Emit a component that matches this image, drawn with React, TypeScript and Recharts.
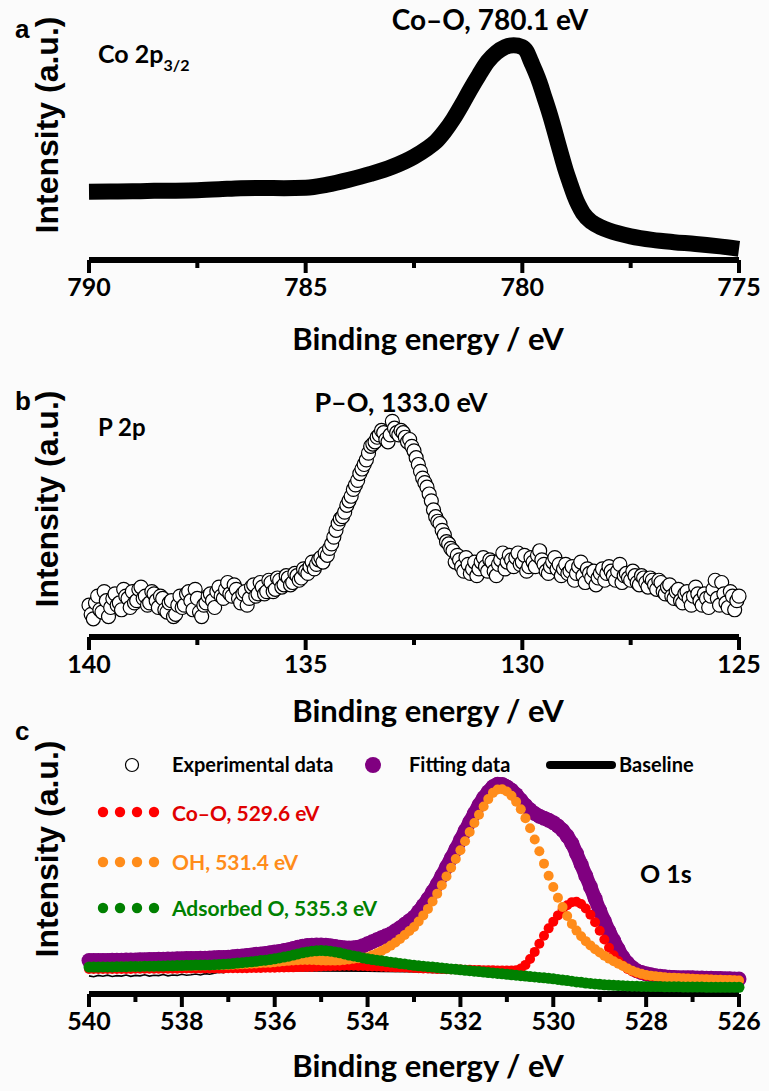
import React from 'react';
import { LineChart, Line, XAxis, YAxis, ComposedChart } from 'recharts';

const NUM_FONT = 'Lato, "Open Sans", sans-serif';
const AX_FONT = '"Liberation Sans", Arial, sans-serif';

// ---------- helpers for energy channels (sampling grid) ----------
const channels = (start: number, count: number, step: number) =>
  Array.from({ length: count }, (_, i) => +(start - i * step).toFixed(2));

// ---------- panel a : Co 2p3/2 ----------
const coEnergy = [790, 789.5, 789, 788.5, 788, 787.5, 787, 786.5, 786, 785.5, 785, 784.5, 784, 783.5, 783, 782.5, 782.2, 782, 781.8, 781.6, 781.4, 781.2, 781, 780.8, 780.6, 780.4, 780.2, 780.0, 779.9, 779.8, 779.7, 779.6, 779.5, 779.4, 779.3, 779.2, 779.1, 779.0, 778.9, 778.8, 778.7, 778.6, 778.4, 778.2, 778.0, 777.5, 777, 776.5, 776, 775.5, 775];
const coIntensity = [30.6, 30.7, 30.8, 31.0, 31.1, 31.3, 31.7, 32.2, 32.3, 32.2, 32.4, 33.8, 36.0, 38.6, 41.8, 46.3, 50.0, 53.0, 57.5, 63.0, 69.5, 76.5, 83.0, 89.0, 93.0, 95.5, 96.3, 95.5, 93.5, 89.0, 84.5, 79.5, 73.5, 67.5, 61.0, 54.0, 47.0, 40.3, 34.5, 29.0, 24.5, 21.0, 17.0, 14.8, 13.2, 10.6, 9.0, 8.0, 7.2, 6.2, 5.0];
const coTicks = [790, 787.5, 785, 782.5, 780, 777.5, 775];
const coMajor = [790, 785, 780, 775];

// ---------- panel b : P 2p ----------
const pEnergy = channels(140, 301, 0.05);
const pIntensity = [
  14, 10, 8, 15, 18, 12, 11, 20, 16, 9, 13, 17, 19, 14, 15, 12, 21, 18, 17, 13,
  20, 15, 16, 21, 22, 17, 18, 14, 15, 20, 19, 16, 13, 18, 17, 12, 11, 15, 16, 9,
  10, 14, 18, 13, 14, 19, 20, 16, 12, 21, 17, 11, 9, 14, 15, 18, 19, 16, 13, 20,
  22, 18, 17, 21, 24, 19, 18, 23, 21, 17, 15, 19, 20, 14, 17, 22, 23, 18, 19, 24,
  22, 19, 20, 25, 24, 20, 21, 26, 25, 22, 23, 27, 26, 23, 24, 28, 27, 25, 26, 30,
  29, 28, 31, 33, 30, 32, 34, 35, 33, 37, 36, 39, 41, 44, 47, 50, 52, 53, 55, 58,
  60, 62, 65, 67, 69, 72, 74, 76, 78, 81, 84, 85, 86, 88, 89, 91, 90, 87, 86, 89,
  95, 92, 90, 89, 91, 90, 88, 86, 87, 84, 82, 79, 76, 73, 70, 68, 66, 63, 60, 56,
  53, 51, 50, 47, 45, 42, 41, 39, 38, 33, 36, 34, 31, 29, 35, 32, 28, 30, 33, 27,
  30, 33, 35, 31, 29, 34, 33, 29, 27, 32, 34, 37, 30, 33, 36, 34, 31, 35, 37, 32,
  33, 36, 29, 31, 35, 33, 31, 36, 38, 34, 32, 29, 28, 31, 33, 35, 30, 32, 27, 30,
  32, 28, 29, 31, 25, 28, 31, 33, 27, 24, 30, 28, 26, 29, 23, 26, 28, 30, 25, 28,
  31, 29, 27, 25, 29, 32, 24, 27, 28, 26, 25, 29, 27, 24, 23, 27, 26, 24, 22, 26,
  25, 23, 21, 25, 24, 20, 19, 22, 23, 18, 17, 20, 21, 16, 15, 19, 20, 17, 14, 18,
  22, 19, 16, 14, 19, 17, 13, 18, 21, 25, 17, 14, 24, 19, 15, 13, 20, 18, 12, 16,
  18,
];
const pTicks = [140, 137.5, 135, 132.5, 130, 127.5, 125];
const pMajor = [140, 135, 130, 125];

// ---------- panel c : O 1s ----------
const oEnergy = channels(540, 141, 0.1);
const oExperimental = [
  8.1, 7.7, 8.3, 7.9, 8.4, 7.8, 8.2, 8.0, 8.5, 7.9,
  8.3, 8.1, 8.6, 8.0, 8.4, 8.2, 8.7, 8.1, 8.5, 8.3,
  8.8, 8.4, 8.6, 8.9, 8.5, 9.1, 8.8, 9.3, 9.7, 9.5,
  10.4, 11.0, 11.7, 12.5, 13.4,
  14.6, 15.8, 17.0, 18.3, 19.2, 20.0,
  20.6, 21.2, 21.5, 22.0, 22.2, 22.4, 22.6, 22.3, 22.5, 22.1,
  21.8, 21.6, 21.4, 21.5, 21.3, 21.6, 21.9, 22.4, 23.0, 23.8,
  24.5, 25.3, 26.2, 27.1, 28.0, 29.0, 30.2, 31.6, 33.0, 34.5,
  36.9, 39.6, 42.5, 45.7, 49.1, 52.9, 56.8, 60.7, 64.7, 68.8,
  72.9, 76.9, 80.7, 84.5, 87.8, 90.6, 93.3, 95.5, 94.0, 92.6,
  91.1, 89.1, 86.7, 84.3, 82.3, 80.7, 79.5, 78.6, 77.7, 76.6,
  75.1, 73.2, 70.6, 67.3, 62.8, 57.9, 52.9, 47.9, 42.7, 37.4,
  32.7, 28.1, 24.0, 20.1, 16.5, 13.9, 11.9, 10.5, 9.7, 9.1,
  8.7, 8.3, 8.0, 7.8, 7.6, 7.5, 7.4, 7.4, 7.3, 7.3,
  7.2, 7.2, 7.1, 7.1, 7.0, 7.0, 6.9, 6.9, 6.8, 6.8,
];
const oFitting = [
  14.9, 14.9, 15.0, 15.0, 15.0, 15.1, 15.1, 15.1, 15.2, 15.2,
  15.2, 15.3, 15.3, 15.4, 15.4, 15.5, 15.5, 15.6, 15.6, 15.7,
  15.7, 15.8, 15.8, 15.9, 16.0, 16.0, 16.1, 16.2, 16.3, 16.3,
  16.4,
  16.6, 16.8, 17.0, 17.2, 17.4, 17.7, 17.9, 18.1, 18.4, 18.7,
  19.0, 19.4, 19.8, 20.3, 20.9, 21.3, 21.6, 21.8, 21.9, 21.9,
  21.8, 21.5, 21.2, 20.9, 20.6, 20.5, 20.6, 20.9, 21.5, 22.4,
  23.3, 24.2, 25.1, 26.0, 26.9, 28.2, 29.6, 31.1, 32.7, 34.3,
  36.8, 39.5, 42.4, 45.6, 49.0, 52.8, 56.7, 60.6, 64.6, 68.7,
  72.8, 76.8, 80.6, 84.4, 87.6, 90.3, 92.5, 93.6, 93.5, 92.5,
  91.0, 89.0, 86.6, 84.2, 82.2, 80.6, 79.4, 78.5, 77.6, 76.5,
  75.0, 73.1, 70.5, 67.2, 62.7, 57.8, 52.8, 47.8, 42.6, 37.3,
  32.6, 28.0, 23.9, 20.0, 16.4, 13.8, 11.8, 10.4, 9.6, 9.0,
  8.6, 8.2, 7.9, 7.7, 7.5, 7.4, 7.3, 7.3, 7.2, 7.2,
  7.1, 7.1, 7.0, 7.0, 6.9, 6.9, 6.8, 6.8, 6.7, 6.7,
];
const oCoO = [
  11.2, 11.2, 11.2, 11.2, 11.2, 11.2, 11.2, 11.2, 11.2, 11.2,
  11.3, 11.3, 11.3, 11.3, 11.3, 11.3, 11.3, 11.3, 11.3, 11.3,
  11.4, 11.4, 11.4, 11.4, 11.4, 11.4, 11.4, 11.4, 11.4, 11.4,
  11.5,
  11.5, 11.5, 11.5, 11.5, 11.6, 11.6, 11.6, 11.7, 11.7, 11.7,
  11.8, 11.8, 11.9, 11.9, 12.0, 12.0, 12.1, 12.1, 12.2, 12.3,
  12.4, 12.4, 12.5, 12.5, 12.6, 12.6, 12.6, 12.5, 12.5, 12.4,
  12.3, 12.3, 12.2, 12.1, 12.0, 11.9, 11.9, 11.8, 11.7, 11.6,
  11.5, 11.4, 11.4, 11.3, 11.2, 11.2, 11.1, 11.0, 11.0, 10.9,
  10.8, 10.8, 10.7, 10.7, 10.6, 10.6, 10.6, 10.5, 10.5, 10.5,
  10.5, 10.6, 11.4, 13.0, 15.6, 18.8, 22.4, 26.0, 29.3, 32.3,
  35.1, 37.6, 39.6, 41.0, 41.2, 40.2, 38.2, 35.4, 32.0, 28.2,
  24.3, 20.6, 17.3, 14.7, 12.7, 11.2, 10.1, 9.3, 8.7, 8.2,
  7.9, 7.7, 7.5, 7.3, 7.2, 7.1, 7.0, 6.9, 6.9, 6.8,
  6.7, 6.6, 6.6, 6.5, 6.4, 6.4, 6.3, 6.2, 6.1, 6.0,
];
const oOH = [
  12.0, 12.0, 12.0, 12.1, 12.1, 12.1, 12.1, 12.2, 12.2, 12.2,
  12.2, 12.3, 12.3, 12.3, 12.3, 12.4, 12.4, 12.4, 12.5, 12.5,
  12.5, 12.6, 12.6, 12.6, 12.7, 12.7, 12.8, 12.8, 12.9, 12.9,
  13.0,
  13.1, 13.2, 13.3, 13.4, 13.5, 13.6, 13.8, 13.9, 14.0, 14.2,
  14.4, 14.6, 14.8, 15.0, 15.1, 15.2, 15.2, 15.2, 15.1, 15.0,
  14.9, 14.9, 14.9, 15.0, 15.2, 15.4, 15.7, 16.0, 16.2, 16.4,
  17.3, 18.2, 19.2, 20.3, 21.6, 23.0, 24.6, 26.3, 28.1, 29.9,
  32.4, 35.1, 38.0, 41.3, 44.8, 48.6, 52.5, 56.4, 60.3, 64.2,
  68.2, 72.3, 76.3, 80.0, 83.7, 87.0, 89.8, 91.3, 91.4, 90.4,
  88.5, 85.8, 82.5, 78.5, 74.0, 69.0, 63.7, 58.2, 52.8, 47.8,
  43.0, 38.8, 34.8, 31.3, 28.3, 25.8, 23.6, 21.7, 20.0, 18.5,
  17.1, 15.8, 14.6, 13.5, 12.5, 11.4, 10.4, 9.6, 9.0, 8.5,
  8.2, 7.9, 7.7, 7.5, 7.3, 7.2, 7.1, 7.0, 6.9, 6.8,
  6.7, 6.6, 6.6, 6.5, 6.4, 6.4, 6.3, 6.2, 6.1, 6.0,
];
const oAdsorbed = [
  12.0, 12.0, 12.0, 12.1, 12.1, 12.1, 12.2, 12.2, 12.2, 12.3,
  12.3, 12.3, 12.4, 12.4, 12.4, 12.5, 12.5, 12.6, 12.6, 12.7,
  12.7, 12.8, 12.8, 12.9, 12.9, 13.0, 13.0, 13.1, 13.2, 13.3,
  13.4,
  13.6, 13.8, 14.0, 14.2, 14.4, 14.6, 14.9, 15.1, 15.4, 15.7,
  16.1, 16.5, 16.9, 17.4, 17.9, 18.4, 18.8, 19.1, 19.3, 19.4,
  19.3, 19.1, 18.8, 18.4, 17.9, 17.4, 17.0, 16.6, 16.1, 15.7,
  15.4, 15.1, 14.8, 14.5, 14.2, 13.9, 13.6, 13.4, 13.1, 12.8,
  12.6, 12.4, 12.2, 12.0, 11.8, 11.6, 11.4, 11.2, 11.0, 10.8,
  10.6, 10.4, 10.2, 10.0, 9.8, 9.6, 9.4, 9.2, 9.0, 8.8,
  8.6, 8.4, 8.2, 8.0, 7.8, 7.6, 7.4, 7.2, 7.0, 6.8,
  6.5, 6.2, 6.0, 5.7, 5.4, 5.2, 4.9, 4.7, 4.5, 4.3,
  4.1, 4.0, 3.9, 3.8, 3.7, 3.6, 3.5, 3.5, 3.4, 3.4,
  3.3, 3.3, 3.3, 3.2, 3.2, 3.2, 3.2, 3.1, 3.1, 3.1,
  3.1, 3.1, 3.0, 3.0, 3.0, 3.0, 3.0, 3.0, 3.0, 3.0,
];
const baseEnergy = [540, 538, 536, 534, 532, 531, 530, 529, 528, 527, 526];
const baseIntensity = [11.6, 11.7, 11.8, 11.6, 10.6, 9.0, 6.6, 4.2, 3.3, 3.1, 3.0];
const oTicks = [540, 539, 538, 537, 536, 535, 534, 533, 532, 531, 530, 529, 528, 527, 526];
const oMajor = [540, 538, 536, 534, 532, 530, 528, 526];

// ---------- table rows built from the arrays ----------
const coRows = coEnergy.map((e, i) => ({ e, v: coIntensity[i] }));
const pRows = pEnergy.map((e, i) => ({ e, v: pIntensity[i] }));
const oRows = oEnergy.map((e, i) => ({
  e,
  exp: oExperimental[i],
  fit: oFitting[i],
  coO: oCoO[i],
  oh: oOH[i],
  ads: oAdsorbed[i],
}));
const baseRows = baseEnergy.map((e, i) => ({ e, base: baseIntensity[i] }));

const COLORS = { red: '#ff0000', orange: '#ff8c1a', green: '#008000', purple: '#800080' };

const renderTick = (majors: number[]) => (props: any) => {
  const { x, y, payload } = props;
  const v = payload.value;
  const isMajor = majors.includes(v);
  return (
    <g>
      <line x1={x} x2={x} y1={y} y2={y + (isMajor ? 13 : 8)} stroke="#000" strokeWidth={4} />
      {isMajor && (
        <text x={x} y={y + 36} textAnchor="middle" fontFamily={NUM_FONT} fontWeight={700} fontSize={25} fill="#000">
          {v}
        </text>
      )}
    </g>
  );
};

const axisLine = { stroke: '#000', strokeWidth: 6 };

const W = 769;

function PanelA() {
  return (
    <LineChart width={W} height={365} data={coRows} margin={{ top: 37, right: 30, bottom: 0, left: 89 }}>
      <XAxis dataKey="e" type="number" domain={[775, 790]} reversed ticks={coTicks} interval={0}
        tickSize={0} tickMargin={0} tickLine={false} axisLine={axisLine} tick={renderTick(coMajor)} height={105} />
      <YAxis type="number" domain={[0, 100]} width={0} tick={false} tickLine={false} axisLine={axisLine} />
      <Line dataKey="v" type="monotone" stroke="#000" strokeWidth={16} dot={false} activeDot={false} isAnimationActive={false} />
    </LineChart>
  );
}

function PanelB() {
  return (
    <LineChart width={W} height={365} data={pRows} margin={{ top: 45, right: 30, bottom: 0, left: 89 }}>
      <XAxis dataKey="e" type="number" domain={[125, 140]} reversed ticks={pTicks} interval={0}
        tickSize={0} tickMargin={0} tickLine={false} axisLine={axisLine} tick={renderTick(pMajor)} height={93} />
      <YAxis type="number" domain={[0, 100]} width={0} tick={false} tickLine={false} axisLine={axisLine} />
      <Line dataKey="v" stroke="none" dot={{ r: 7, fill: '#fff', stroke: '#000', strokeWidth: 1.2 }} activeDot={false} isAnimationActive={false} />
    </LineChart>
  );
}

function PanelC() {
  return (
    <ComposedChart width={W} height={361} data={oRows} margin={{ top: 40, right: 30, bottom: 0, left: 89 }}>
      <XAxis dataKey="e" type="number" domain={[526, 540]} reversed ticks={oTicks} interval={0}
        tickSize={0} tickMargin={0} tickLine={false} axisLine={axisLine} tick={renderTick(oMajor)} height={97} />
      <YAxis type="number" domain={[0, 100]} width={0} tick={false} tickLine={false} axisLine={axisLine} />
      <Line data={baseRows} dataKey="base" type="monotone" stroke="#000" strokeWidth={8} dot={false} activeDot={false} isAnimationActive={false} />
      <Line dataKey="exp" type="linear" stroke="#000" strokeWidth={1.6} dot={false} activeDot={false} isAnimationActive={false} />
      <Line dataKey="fit" type="monotone" stroke={COLORS.purple} strokeWidth={14}
        dot={{ r: 7.5, fill: COLORS.purple, stroke: 'none' }} activeDot={false} isAnimationActive={false} />
      <Line dataKey="coO" stroke="none" dot={{ r: 5, fill: COLORS.red, stroke: 'none' }} activeDot={false} isAnimationActive={false} />
      <Line dataKey="oh" stroke="none" dot={{ r: 5, fill: COLORS.orange, stroke: 'none' }} activeDot={false} isAnimationActive={false} />
      <Line dataKey="ads" stroke="none" dot={{ r: 5.5, fill: COLORS.green, stroke: 'none' }} activeDot={false} isAnimationActive={false} />
    </ComposedChart>
  );
}

const txt = (extra: any) => ({ fontFamily: NUM_FONT, fontWeight: 700, fill: '#000', ...extra });

function Overlay() {
  const yTitle = (cy: number) => (
    <text x={58} y={cy} transform={`rotate(-90 58 ${cy})`} textAnchor="middle" fontFamily={AX_FONT} fontWeight={700} fontSize={32} fill="#000">
      Intensity (a.u.)
    </text>
  );
  const xTitle = (by: number) => (
    <text x={428} y={by} textAnchor="middle" {...txt({ fontSize: 31 })}>Binding energy / eV</text>
  );
  const dots = (cy: number, color: string) =>
    [103, 120, 137, 154].map((cx) => <circle key={cx} cx={cx} cy={cy} r={5.2} fill={color} />);
  return (
    <svg width={W} height={1091} style={{ position: 'absolute', left: 0, top: 0, pointerEvents: 'none' }}>
      {/* panel letters */}
      <text x={15} y={38} fontFamily={AX_FONT} fontWeight={700} fontSize={26} fill="#000">a</text>
      <text x={15} y={410} fontFamily={AX_FONT} fontWeight={700} fontSize={26} fill="#000">b</text>
      <text x={15} y={740} fontFamily={AX_FONT} fontWeight={700} fontSize={26} fill="#000">c</text>

      {yTitle(125)}
      {yTitle(499)}
      {yTitle(849)}
      {xTitle(350)}
      {xTitle(722)}
      {xTitle(1077)}

      {/* panel a annotations */}
      <text x={490} y={30} textAnchor="middle" {...txt({ fontSize: 28 })}>Co–O, 780.1 eV</text>
      <text x={98} y={63} {...txt({ fontSize: 25 })}>
        Co 2p<tspan fontSize={16} dy={8}>3/2</tspan>
      </text>

      {/* panel b annotations */}
      <text x={401} y={412} textAnchor="middle" {...txt({ fontSize: 27 })}>P–O, 133.0 eV</text>
      <text x={98} y={436} {...txt({ fontSize: 24 })}>P 2p</text>

      {/* panel c legend */}
      <circle cx={132} cy={765} r={6.5} fill="#fff" stroke="#000" strokeWidth={1.2} />
      <text x={172} y={772} {...txt({ fontSize: 20 })}>Experimental data</text>
      <circle cx={373} cy={765} r={8} fill={COLORS.purple} />
      <text x={409} y={772} {...txt({ fontSize: 20 })}>Fitting data</text>
      <line x1={550} x2={612} y1={765} y2={765} stroke="#000" strokeWidth={8} strokeLinecap="round" />
      <text x={619} y={772} {...txt({ fontSize: 20 })}>Baseline</text>

      {dots(812, COLORS.red)}
      <text x={172} y={821} {...txt({ fontSize: 21, fill: '#e00000' })}>Co–O, 529.6 eV</text>
      {dots(862, COLORS.orange)}
      <text x={172} y={870} {...txt({ fontSize: 21, fill: '#ff8c1a' })}>OH, 531.4 eV</text>
      {dots(908, COLORS.green)}
      <text x={172} y={916} {...txt({ fontSize: 21, fill: '#008000' })}>Adsorbed O, 535.3 eV</text>

      <text x={640} y={883} {...txt({ fontSize: 25 })}>O 1s</text>
    </svg>
  );
}

export default function App() {
  return (
    <div style={{ position: 'absolute', left: 0, top: 0, width: W, height: 1091, background: '#fbfbfb', overflow: 'hidden' }}>
      <div style={{ position: 'absolute', left: 0, top: 0 }}><PanelA /></div>
      <div style={{ position: 'absolute', left: 0, top: 365 }}><PanelB /></div>
      <div style={{ position: 'absolute', left: 0, top: 730 }}><PanelC /></div>
      <Overlay />
    </div>
  );
}
